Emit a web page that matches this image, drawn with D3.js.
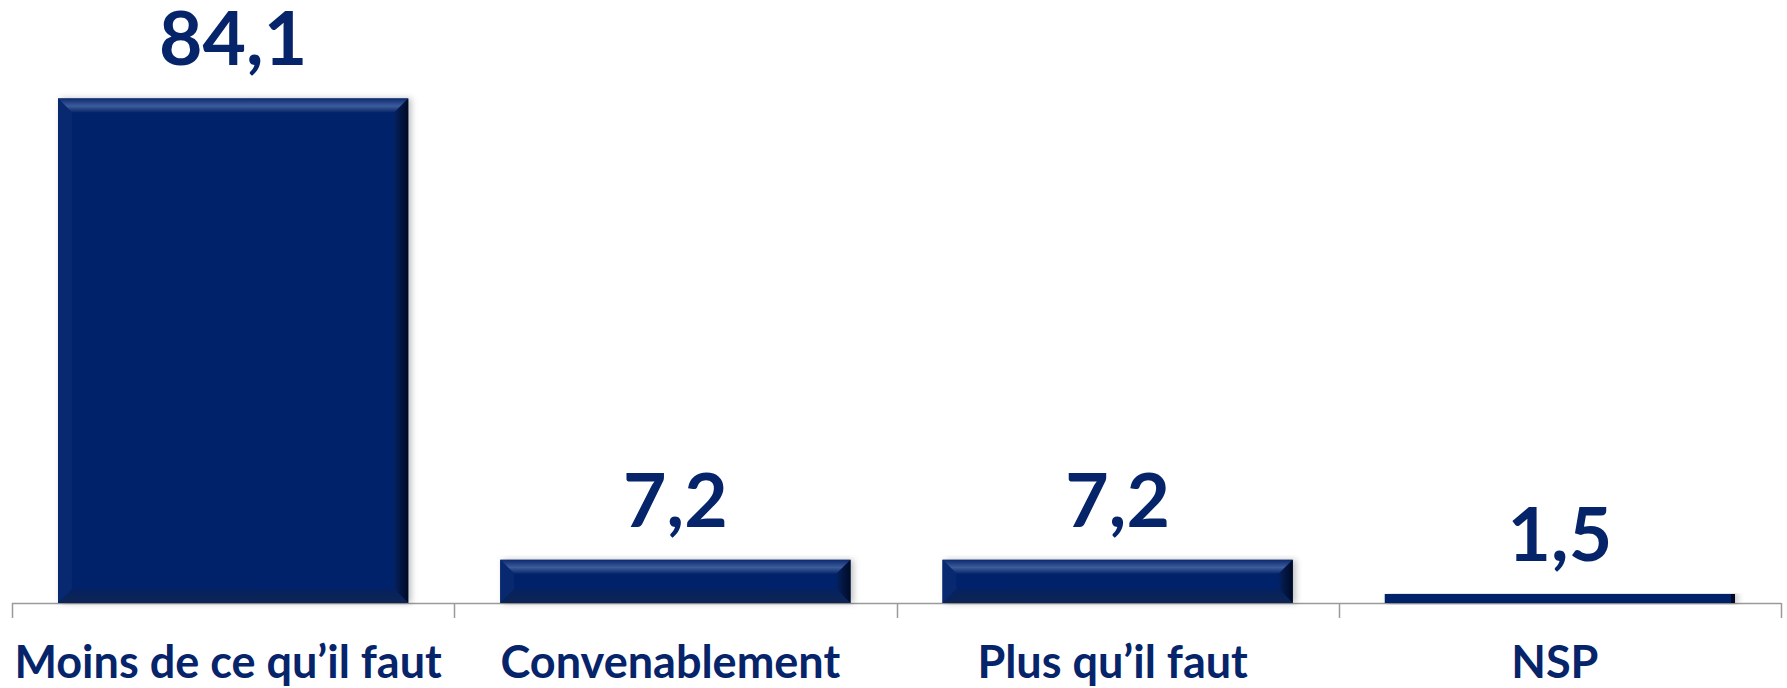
<!DOCTYPE html>
<html>
<head>
<meta charset="utf-8">
<script src="https://cdn.jsdelivr.net/npm/d3@7"></script>
<style>
  body { margin: 0; background: #fff; }
  svg { display: block; }
</style>
</head>
<body>
<div id="chart"></div>
<script>
'use strict';

// Chart data
const categories = ["Moins de ce qu\u2019il faut", "Convenablement", "Plus qu\u2019il faut", "NSP"];
const values = [84.1, 7.2, 7.2, 1.5];
const valueLabels = ["84,1", "7,2", "7,2", "1,5"];

const width = 1787;
const height = 688;
const navy = "#06246a";

const svg = d3.select("#chart").append("svg")
    .attr("width", width)
    .attr("height", height);

const x = d3.scaleBand()
    .domain(categories)
    .range([12, 1781])
    .paddingInner(0.208)
    .paddingOuter(0.104);

const y = d3.scaleLinear()
    .domain([0, 90])
    .range([603, 63]);

// Gradients / filter for the bevelled bars
const defs = svg.append("defs");
const shadow = defs.append("filter").attr("id", "shadow")
    .attr("x", "-10%").attr("y", "-10%").attr("width", "130%").attr("height", "130%");
shadow.append("feDropShadow")
    .attr("dx", 3).attr("dy", 0).attr("stdDeviation", 3)
    .attr("flood-color", "#000").attr("flood-opacity", 0.25);

const topGrad = defs.append("linearGradient").attr("id", "topBevel")
    .attr("x1", 0).attr("y1", 0).attr("x2", 0).attr("y2", 1);
topGrad.append("stop").attr("offset", "0%").attr("stop-color", "#0c2a6e");
topGrad.append("stop").attr("offset", "55%").attr("stop-color", "#3d5c9c");
topGrad.append("stop").attr("offset", "100%").attr("stop-color", "#0a2869");

const rightGrad = defs.append("linearGradient").attr("id", "rightBevel")
    .attr("x1", 0).attr("y1", 0).attr("x2", 1).attr("y2", 0);
rightGrad.append("stop").attr("offset", "0%").attr("stop-color", "#05215f");
rightGrad.append("stop").attr("offset", "100%").attr("stop-color", "#000a24");

const bottomGrad = defs.append("linearGradient").attr("id", "bottomBevel")
    .attr("x1", 0).attr("y1", 0).attr("x2", 0).attr("y2", 1);
bottomGrad.append("stop").attr("offset", "0%").attr("stop-color", "#05215f");
bottomGrad.append("stop").attr("offset", "100%").attr("stop-color", "#0e2454");

// Axis baseline and tick marks at band boundaries
const axis = svg.append("g").attr("class", "axis");
axis.append("line")
    .attr("x1", x.range()[0]).attr("x2", x.range()[1])
    .attr("y1", y(0) + 0.5).attr("y2", y(0) + 0.5)
    .attr("stroke", "#9a9a9a").attr("stroke-width", 1.5);

const bounds = d3.range(categories.length + 1).map(i => x.range()[0] + i * x.step());
axis.selectAll(".tick")
    .data(bounds)
    .join("line")
      .attr("class", "tick")
      .attr("x1", d => Math.round(d) + 0.5).attr("x2", d => Math.round(d) + 0.5)
      .attr("y1", y(0)).attr("y2", y(0) + 15)
      .attr("stroke", "#9a9a9a").attr("stroke-width", 1.5);

// Bars
const bars = svg.selectAll(".bar")
    .data(values)
    .join("g")
      .attr("class", "bar")
      .attr("transform", (d, i) => `translate(${x(categories[i])},${y(d)})`);

bars.each(function(d) {
  const g = d3.select(this);
  const w = x.bandwidth();
  const h = y(0) - y(d);
  const b = Math.min(14, h / 2);

  g.append("rect")
      .attr("width", w).attr("height", h)
      .attr("fill", navy)
      .attr("filter", "url(#shadow)");

  if (h > 12) {
    g.append("path")
        .attr("d", `M0,0H${w}L${w - b},${b}H${b}Z`)
        .attr("fill", "url(#topBevel)");
    g.append("path")
        .attr("d", `M${w},0V${h}L${w - b},${h - b}V${b}Z`)
        .attr("fill", "url(#rightBevel)");
    g.append("path")
        .attr("d", `M0,${h}H${w}L${w - b},${h - b}H${b}Z`)
        .attr("fill", "url(#bottomBevel)");
    g.append("path")
        .attr("d", `M0,0V${h}L${b},${h - b}V${b}Z`)
        .attr("fill", "#082870");
  } else {
    g.append("rect")
        .attr("x", w - 4).attr("width", 4).attr("height", h)
        .attr("fill", "#000a24");
  }
});

// Value labels above bars
svg.selectAll(".value")
    .data(values)
    .join("text")
      .attr("class", "value")
      .attr("x", (d, i) => x(categories[i]) + x.bandwidth() / 2)
      .attr("y", d => y(d) - 33)
      .attr("text-anchor", "middle")
      .attr("font-family", "Lato, 'Open Sans', sans-serif")
      .attr("font-weight", "bold")
      .attr("font-size", 75)
      .attr("fill", navy)
      .text((d, i) => valueLabels[i]);

// Category labels
svg.selectAll(".cat")
    .data(categories)
    .join("text")
      .attr("class", "cat")
      .attr("x", d => x(d) + x.bandwidth() / 2 - 5)
      .attr("y", 678)
      .attr("text-anchor", "middle")
      .attr("font-family", "Lato, 'Open Sans', sans-serif")
      .attr("font-weight", "bold")
      .attr("font-size", 45)
      .attr("fill", navy)
      .text(d => d);
</script>
</body>
</html>
